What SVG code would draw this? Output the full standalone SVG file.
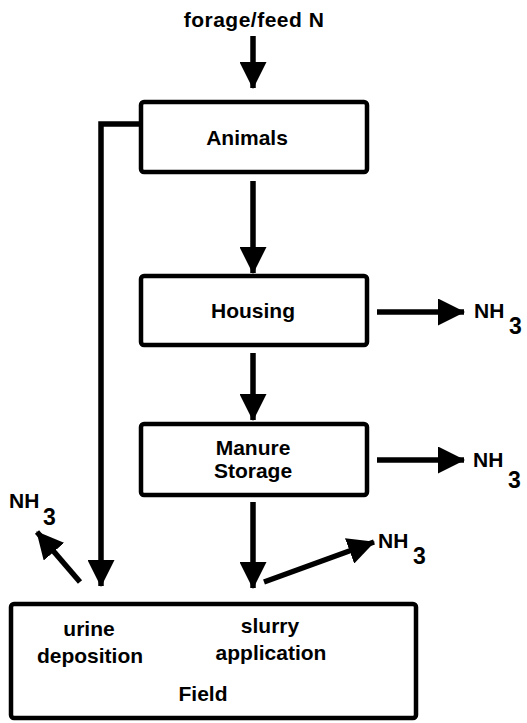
<svg xmlns="http://www.w3.org/2000/svg" width="527" height="723" viewBox="0 0 527 723">
<style>
.box{fill:#fff;stroke:#000;stroke-width:4.5;stroke-linejoin:round}
.ln{fill:none;stroke:#000;stroke-width:5.5}
.t{font-family:"Liberation Sans",Arial,sans-serif;font-weight:bold;font-size:21px;fill:#000;text-anchor:middle}
.s{font-family:"Liberation Sans",Arial,sans-serif;font-weight:bold;font-size:21px;fill:#000}
.sub{font-family:"Liberation Sans",Arial,sans-serif;font-weight:bold;font-size:23px;fill:#000}
</style>
<defs>
<marker id="ah" markerUnits="userSpaceOnUse" markerWidth="27" markerHeight="27" refX="26" refY="13.5" orient="auto">
<path d="M0,0 L27,13.5 L0,27 z" fill="#000"/>
</marker>
</defs>
<rect width="527" height="723" fill="#fff"/>
<g id="connectors">
<path class="ln" d="M253,36 V88" marker-end="url(#ah)"/>
<path class="ln" d="M141,124 H101 V586" marker-end="url(#ah)"/>
<path class="ln" d="M253,181 V273" marker-end="url(#ah)"/>
<path class="ln" d="M253,353 V420" marker-end="url(#ah)"/>
<path class="ln" d="M253,502 V588" marker-end="url(#ah)"/>
<path class="ln" d="M377,312 H464" marker-end="url(#ah)"/>
<path class="ln" d="M377,460 H464" marker-end="url(#ah)"/>
<path class="ln" d="M264,582 L374,542" marker-end="url(#ah)"/>
<path class="ln" d="M80,582 L37,532" marker-end="url(#ah)"/>
</g>
<g id="forage">
<text class="t" x="254" y="27" letter-spacing="0.5">forage/feed N</text>
</g>
<g id="animals">
<rect class="box" x="141" y="102" width="226" height="70" rx="3"/>
<text class="t" x="247" y="145">Animals</text>
</g>
<g id="housing">
<rect class="box" x="141" y="276" width="226" height="69" rx="3"/>
<text class="t" x="253" y="318">Housing</text>
</g>
<g id="manure">
<rect class="box" x="141" y="424" width="226" height="71" rx="3"/>
<text class="t" x="253" y="455">Manure</text>
<text class="t" x="253" y="478">Storage</text>
</g>
<g id="field">
<rect class="box" x="11" y="604" width="405" height="114" rx="3"/>
<text class="t" x="89" y="636">urine</text>
<text class="t" x="90" y="663">deposition</text>
<text class="t" x="270" y="633">slurry</text>
<text class="t" x="271" y="660">application</text>
<text class="t" x="203" y="701">Field</text>
</g>
<g id="nh3-housing">
<text class="s" x="474" y="318">NH</text>
<text class="sub" x="509" y="334">3</text>
</g>
<g id="nh3-storage">
<text class="s" x="473" y="467">NH</text>
<text class="sub" x="508" y="488">3</text>
</g>
<g id="nh3-slurry">
<text class="s" x="378" y="548">NH</text>
<text class="sub" x="413" y="564">3</text>
</g>
<g id="nh3-urine">
<text class="s" x="9" y="508">NH</text>
<text class="sub" x="43" y="525">3</text>
</g>
</svg>
